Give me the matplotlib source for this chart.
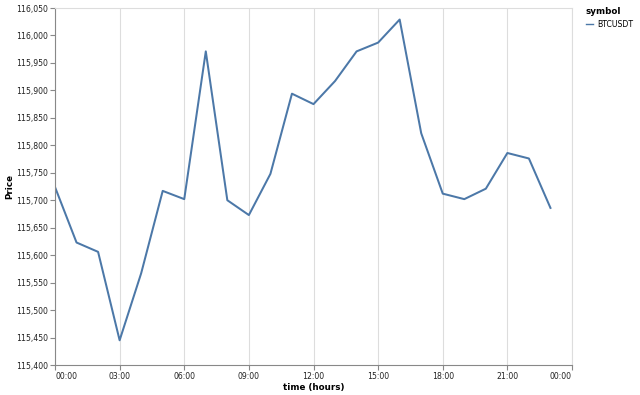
import matplotlib
matplotlib.use("Agg")
import matplotlib.pyplot as plt
from matplotlib.ticker import FuncFormatter, MultipleLocator

# hourly BTCUSDT prices
hours = list(range(24))
price = [115724, 115623, 115606, 115445, 115567, 115717, 115702, 115971,
         115700, 115673, 115748, 115894, 115875, 115917, 115971, 115987,
         116029, 115822, 115712, 115702, 115721, 115786, 115776, 115686]
symbol = "BTCUSDT"
xticks = [0, 3, 6, 9, 12, 15, 18, 21, 24]
xlabels = ["00:00", "03:00", "06:00", "09:00", "12:00", "15:00", "18:00", "21:00", "00:00"]

W, H = 640, 395
fig = plt.figure(figsize=(W / 100, H / 100), dpi=100)
ax = fig.add_axes([55 / W, (H - 365) / H, (572 - 55) / W, (365 - 8) / H])

ax.plot(hours, price, color="#4c78a8", lw=1.45, label=symbol)

ax.set_xlim(0, 24)
ax.set_ylim(115400, 116050)
ax.yaxis.set_major_locator(MultipleLocator(50))
ax.yaxis.set_major_formatter(FuncFormatter(lambda v, p: f"{v:,.0f}"))
ax.set_xticks(xticks)
ax.set_xticklabels(xlabels)
labs = ax.get_xticklabels()
labs[0].set_ha("left")
labs[-1].set_ha("right")

ax.grid(axis="x", color="#dddddd", lw=0.8)
ax.set_axisbelow(True)
for s in ["top", "right"]:
    ax.spines[s].set_color("#dddddd")
    ax.spines[s].set_linewidth(0.8)
for s in ["left", "bottom"]:
    ax.spines[s].set_color("#888888")
    ax.spines[s].set_linewidth(0.8)
ax.tick_params(length=3.6, width=0.8, color="#888888", labelsize=5.6,
               labelcolor="#222222", pad=1.5)

ax.set_xlabel("time (hours)", fontsize=6.3, fontweight="bold", labelpad=1.5)
ax.set_ylabel("Price", fontsize=6.3, fontweight="bold")
ax.yaxis.set_label_coords(-41 / (572 - 55), 0.5)

leg = fig.legend(loc="upper left", bbox_to_anchor=(586 / W, 1 - 7 / H),
                 frameon=False, title="symbol", fontsize=5.6,
                 title_fontproperties={"weight": "bold", "size": 6.3},
                 handlelength=0.9, handletextpad=0.5, alignment="left",
                 borderaxespad=0, borderpad=0, labelspacing=0.3)
leg.get_lines()[0].set_linewidth(1.0)
leg._legend_box.sep = 3

fig.savefig("out.png", dpi=100)
